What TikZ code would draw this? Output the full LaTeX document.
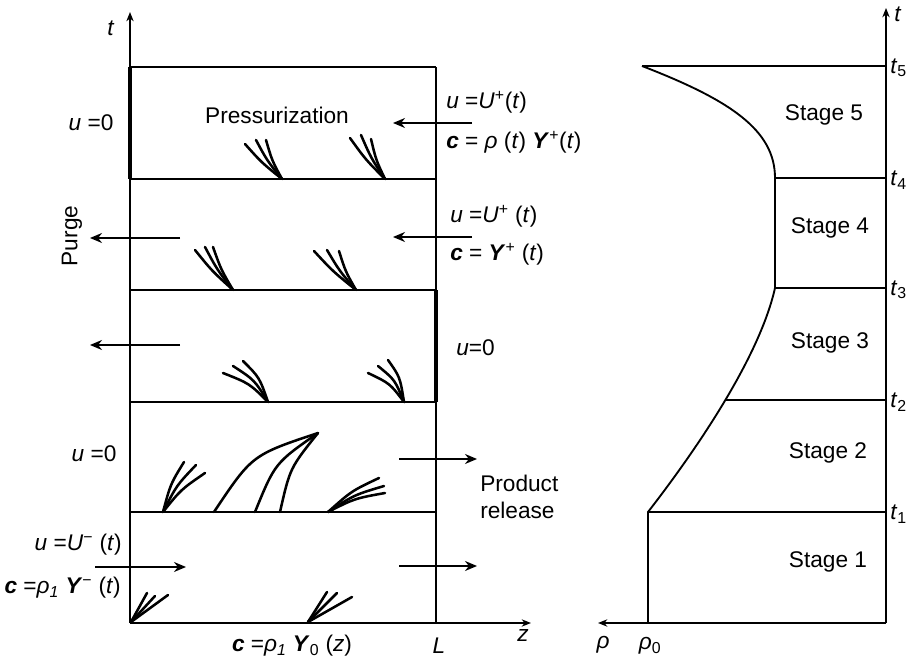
\documentclass[tikz,border=0pt]{standalone}
\usepackage{fontspec}
\setmainfont{Liberation Sans}
\usetikzlibrary{arrows.meta,calc}
\newcommand\vb[1]{\textbf{\textit{#1}}}
\newcommand\fanfrom[4]{% base, list of tops x/y, dx, dy
  \foreach \tx/\ty in {#2}
    \draw[fanline] (#1) .. controls ($(#1)!0.5!(\tx,\ty)+(#3,#4)$) .. (\tx,\ty);}
\begin{document}
\begin{tikzpicture}[x=0.75pt,y=-0.75pt,
  font=\fontsize{17}{20}\selectfont,
  lbl/.style={inner sep=0pt},
  box/.style={line width=1pt},
  fanline/.style={line width=1.9pt, line cap=round},
  wall/.style={line width=2.4pt},
  curve/.style={line width=1.4pt},
  flow/.style={line width=1.2pt, -{Stealth[length=9pt,width=7.5pt]}},
  axis/.style={line width=1pt, -{Stealth[length=7pt,width=5.5pt]}}]
\useasboundingbox (0,0) rectangle (906,666);

% ---------- left panel ----------
\coordinate (O) at (130,623);
\coordinate (L0) at (436,623);
\draw[axis] (O) -- (130,12) coordinate (ttip);
\draw[axis] (O) -- (531,623) coordinate (ztip);
\foreach \y/\n in {512/1,402/2,290/3,179/4,67/5}{
  \coordinate (a\n) at (130,\y); \coordinate (b\n) at (436,\y);
  \draw[box] (a\n) -- (b\n);
}
\draw[box] (L0) -- (b5);
\draw[wall] (a5) -- (a4);
\draw[wall] (b3) -- (b2);

% flow arrows
\draw[flow] (472,123) coordinate (f5s) -- (393,123) coordinate (f5e);
\draw[flow] (472,237) coordinate (f4s) -- (393,237) coordinate (f4e);
\draw[flow] (180,238) coordinate (p4s) -- (90,238) coordinate (p4e);
\draw[flow] (180,345) coordinate (p3s) -- (90,345) coordinate (p3e);
\draw[flow] (399,459) coordinate (r2s) -- (477,459) coordinate (r2e);
\draw[flow] (399,566) coordinate (r1s) -- (477,566) coordinate (r1e);
\draw[flow] (95,567) coordinate (i1s) -- (186,567) coordinate (i1e);

% characteristic fans
\coordinate (F5a) at (282,179); \coordinate (F5b) at (385,179);
\coordinate (F4a) at (233,290); \coordinate (F4b) at (356,290);
\coordinate (F3a) at (268,402); \coordinate (F3b) at (404,402);
\coordinate (F2a) at (163,512); \coordinate (F2b) at (328,512);
\coordinate (F1a) at (131,622); \coordinate (F1b) at (308,622);
\fanfrom{F5a}{245/144,256/140,266/140}{-2}{1}
\fanfrom{F5b}{350/138,361/135,371/139}{-2}{1}
\fanfrom{F4a}{195/250,205/247,213/247}{-2}{1}
\fanfrom{F4b}{314/251,327/250,339/251}{-2}{1}
\fanfrom{F3a}{223/373,233/366,243/361}{4}{-4}
\fanfrom{F3b}{368/373,378/366,388/360}{4}{-4}
\fanfrom{F2a}{184/462,196/465,205/473}{-3}{-3}
\fanfrom{F2b}{379/478,384/486,385/493}{-2}{-4}
\fanfrom{F1a}{147/593,155/596,168/595}{0}{0}
\fanfrom{F1b}{327/592,337/593,352/597}{0}{0}
% converging characteristics in stage 2
\coordinate (apex) at (318,433);
\draw[fanline] (214,512) .. controls (252,455) .. (apex);
\draw[fanline] (255,512) .. controls (275,463) .. (apex);
\draw[fanline] (280,512) .. controls (290,468) .. (apex);

% labels left panel
\node[lbl] (tl) at (111,28) {\textit{t}};
\node[lbl] (u5) at (91,123) {\textit{u} =0};
\node[lbl] (press) at (277,115) {Pressurization};
\node[lbl,anchor=west] (U5) at (446,102) {\textit{u} =\textit{U}\textsuperscript{+}(\textit{t})};
\node[lbl,anchor=west] (c5) at (446,142) {\vb{c} = \textit{ρ} (\textit{t}) \vb{Y}\textsuperscript{+}(\textit{t})};
\node[lbl,anchor=west] (U4) at (450,216) {\textit{u} =\textit{U}\textsuperscript{+} (\textit{t})};
\node[lbl,anchor=west] (c4) at (450,254) {\vb{c} = \vb{Y}\textsuperscript{+} (\textit{t})};
\node[lbl,rotate=90] (purge) at (72,236) {Purge};
\node[lbl,anchor=west] (u3) at (456,348) {\textit{u}=0};
\node[lbl] (u2) at (94,454) {\textit{u} =0};
\node[lbl,align=left,anchor=west] (prod) at (480,497) {Product\\release};
\node[lbl,anchor=east] (U1) at (122,545) {\textit{u} =\textit{U}\textsuperscript{−} (\textit{t})};
\node[lbl,anchor=east] (c1) at (121,588) {\vb{c} =\textit{ρ}\textsubscript{\textit{1}} \vb{Y}\textsuperscript{−} (\textit{t})};
\node[lbl] (c0) at (292,646) {\vb{c} =\textit{ρ}\textsubscript{\textit{1}} \vb{Y}\textsubscript{0} (\textit{z})};
\node[lbl] (Ll) at (439,646) {\textit{L}};
\node[lbl] (zl) at (523,636) {\textit{z}};

% ---------- right panel ----------
\coordinate (R0) at (886,623);
\coordinate (P0) at (648,623);
\draw[axis] (R0) -- (886,8) coordinate (rtip);
\draw[axis] (R0) -- (598,623) coordinate (rhotip);
\coordinate (s1) at (648,512); \coordinate (e1) at (886,512);
\coordinate (s2) at (726,400); \coordinate (e2) at (886,400);
\coordinate (s3) at (775,288); \coordinate (e3) at (886,288);
\coordinate (s4) at (775,178); \coordinate (e4) at (886,178);
\coordinate (s5) at (642,66);  \coordinate (e5) at (886,66);
\foreach \n in {1,...,5} \draw[box] (s\n) -- (e\n);
\draw[curve] (P0) -- (s1) .. controls (700,445) and (760,355) .. (s3)
  -- (s4) .. controls (775,130) and (730,100) .. (s5);

\node[lbl] (st5) at (824,115) {Stage 5};
\node[lbl] (st4) at (830,228) {Stage 4};
\node[lbl] (st3) at (830,343) {Stage 3};
\node[lbl] (st2) at (828,453) {Stage 2};
\node[lbl] (st1) at (828,562) {Stage 1};
\node[lbl] (tr) at (898,14) {\textit{t}};
\foreach \n/\y in {5/68,4/180,3/290,2/402,1/514}
  \node[lbl,anchor=west] (tt\n) at (890,\y) {\textit{t}\textsubscript{\n}};
\node[lbl] (rho) at (603,645) {\textit{ρ}};
\node[lbl] (rho0) at (650,646) {\textit{ρ}\textsubscript{0}};
\end{tikzpicture}
\end{document}
